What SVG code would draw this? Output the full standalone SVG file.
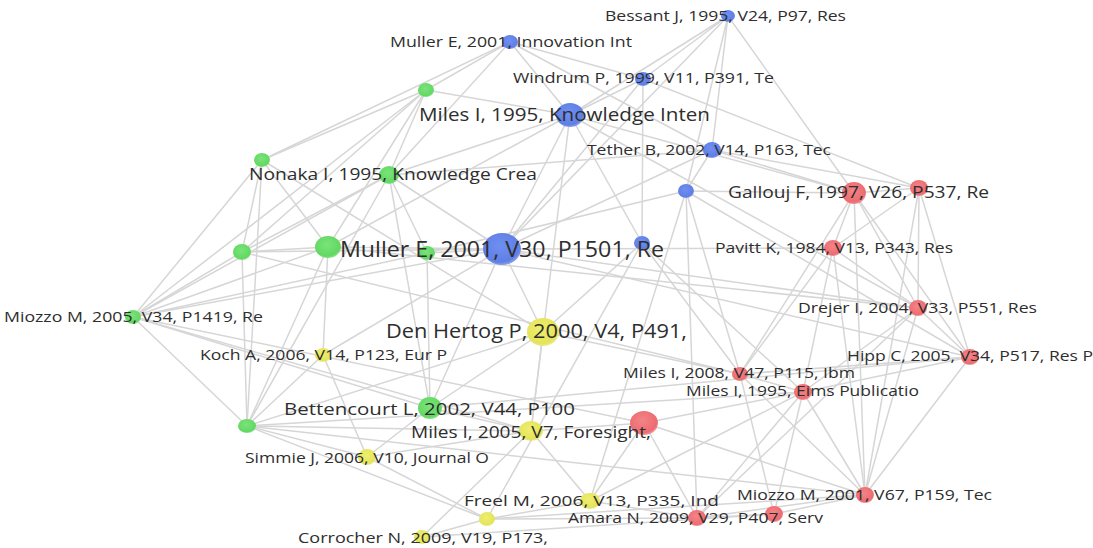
<svg xmlns="http://www.w3.org/2000/svg" width="1093" height="548" viewBox="0 0 1093 548">
  <style>
    .bg { fill: #ffffff; }
    #links line { stroke: #d6d6d6; stroke-width: 1.5; stroke-linecap: round; }
    .lbl { font-family: "Open Sans", "Noto Sans", "Liberation Sans", sans-serif; fill: #2e2e2e; }
    .blue { fill: url(#gBlue); }
    .green { fill: url(#gGreen); }
    .yellow { fill: url(#gYellow); }
    .red { fill: url(#gRed); }
  </style>
  <defs>
    <radialGradient id="gBlue" cx="0.45" cy="0.4" r="0.6">
      <stop offset="0" stop-color="#6f8ff0"/>
      <stop offset="0.85" stop-color="#5f7fe6"/>
      <stop offset="1" stop-color="#6f8ae6" stop-opacity="0.8"/>
    </radialGradient>
    <radialGradient id="gGreen" cx="0.45" cy="0.4" r="0.6">
      <stop offset="0" stop-color="#7ae47a"/>
      <stop offset="0.85" stop-color="#62d862"/>
      <stop offset="1" stop-color="#72da72" stop-opacity="0.8"/>
    </radialGradient>
    <radialGradient id="gYellow" cx="0.45" cy="0.4" r="0.6">
      <stop offset="0" stop-color="#eeee70"/>
      <stop offset="0.85" stop-color="#e4e45a"/>
      <stop offset="1" stop-color="#e6e670" stop-opacity="0.8"/>
    </radialGradient>
    <radialGradient id="gRed" cx="0.45" cy="0.4" r="0.6">
      <stop offset="0" stop-color="#f48488"/>
      <stop offset="0.85" stop-color="#ec6c70"/>
      <stop offset="1" stop-color="#ee7c80" stop-opacity="0.8"/>
    </radialGradient>
  </defs>

  <rect class="bg" x="0" y="0" width="1093" height="548"/>

  <!-- co-citation links -->
  <g id="links">
    <line x1="728" y1="16" x2="643" y2="79"/>
    <line x1="728" y1="16" x2="570" y2="115"/>
    <line x1="728" y1="16" x2="712" y2="150"/>
    <line x1="728" y1="16" x2="686" y2="191"/>
    <line x1="728" y1="16" x2="854" y2="193"/>
    <line x1="728" y1="16" x2="502" y2="249"/>
    <line x1="510" y1="42" x2="426" y2="90"/>
    <line x1="510" y1="42" x2="262" y2="160"/>
    <line x1="510" y1="42" x2="389" y2="175"/>
    <line x1="510" y1="42" x2="570" y2="115"/>
    <line x1="510" y1="42" x2="712" y2="150"/>
    <line x1="510" y1="42" x2="643" y2="79"/>
    <line x1="643" y1="79" x2="642" y2="243"/>
    <line x1="643" y1="79" x2="502" y2="249"/>
    <line x1="643" y1="79" x2="919" y2="188"/>
    <line x1="643" y1="79" x2="570" y2="115"/>
    <line x1="570" y1="115" x2="426" y2="90"/>
    <line x1="570" y1="115" x2="389" y2="175"/>
    <line x1="570" y1="115" x2="502" y2="249"/>
    <line x1="570" y1="115" x2="642" y2="243"/>
    <line x1="570" y1="115" x2="854" y2="193"/>
    <line x1="570" y1="115" x2="918" y2="308"/>
    <line x1="570" y1="115" x2="328" y2="247"/>
    <line x1="570" y1="115" x2="531" y2="431"/>
    <line x1="712" y1="150" x2="686" y2="191"/>
    <line x1="712" y1="150" x2="854" y2="193"/>
    <line x1="712" y1="150" x2="919" y2="188"/>
    <line x1="712" y1="150" x2="502" y2="249"/>
    <line x1="712" y1="150" x2="389" y2="175"/>
    <line x1="686" y1="191" x2="854" y2="193"/>
    <line x1="686" y1="191" x2="740" y2="374"/>
    <line x1="686" y1="191" x2="697" y2="518"/>
    <line x1="686" y1="191" x2="970" y2="357"/>
    <line x1="686" y1="191" x2="427" y2="253"/>
    <line x1="686" y1="191" x2="590" y2="501"/>
    <line x1="642" y1="243" x2="740" y2="374"/>
    <line x1="642" y1="243" x2="803" y2="392"/>
    <line x1="642" y1="243" x2="487" y2="519"/>
    <line x1="642" y1="243" x2="543" y2="332"/>
    <line x1="502" y1="249" x2="328" y2="247"/>
    <line x1="502" y1="249" x2="427" y2="253"/>
    <line x1="502" y1="249" x2="242" y2="252"/>
    <line x1="502" y1="249" x2="133" y2="317"/>
    <line x1="502" y1="249" x2="430" y2="408"/>
    <line x1="502" y1="249" x2="543" y2="332"/>
    <line x1="502" y1="249" x2="833" y2="248"/>
    <line x1="502" y1="249" x2="918" y2="308"/>
    <line x1="502" y1="249" x2="970" y2="357"/>
    <line x1="502" y1="249" x2="323" y2="355"/>
    <line x1="426" y1="90" x2="262" y2="160"/>
    <line x1="426" y1="90" x2="389" y2="175"/>
    <line x1="426" y1="90" x2="133" y2="317"/>
    <line x1="426" y1="90" x2="242" y2="252"/>
    <line x1="426" y1="90" x2="328" y2="247"/>
    <line x1="262" y1="160" x2="242" y2="252"/>
    <line x1="262" y1="160" x2="247" y2="426"/>
    <line x1="262" y1="160" x2="328" y2="247"/>
    <line x1="262" y1="160" x2="543" y2="332"/>
    <line x1="262" y1="160" x2="133" y2="317"/>
    <line x1="389" y1="175" x2="242" y2="252"/>
    <line x1="389" y1="175" x2="427" y2="253"/>
    <line x1="389" y1="175" x2="430" y2="408"/>
    <line x1="389" y1="175" x2="133" y2="317"/>
    <line x1="389" y1="175" x2="247" y2="426"/>
    <line x1="389" y1="175" x2="502" y2="249"/>
    <line x1="242" y1="252" x2="328" y2="247"/>
    <line x1="242" y1="252" x2="133" y2="317"/>
    <line x1="242" y1="252" x2="247" y2="426"/>
    <line x1="242" y1="252" x2="740" y2="374"/>
    <line x1="328" y1="247" x2="133" y2="317"/>
    <line x1="328" y1="247" x2="247" y2="426"/>
    <line x1="328" y1="247" x2="323" y2="355"/>
    <line x1="328" y1="247" x2="918" y2="308"/>
    <line x1="427" y1="253" x2="430" y2="408"/>
    <line x1="427" y1="253" x2="133" y2="317"/>
    <line x1="133" y1="317" x2="247" y2="426"/>
    <line x1="133" y1="317" x2="430" y2="408"/>
    <line x1="133" y1="317" x2="644" y2="423"/>
    <line x1="133" y1="317" x2="531" y2="431"/>
    <line x1="247" y1="426" x2="323" y2="355"/>
    <line x1="247" y1="426" x2="543" y2="332"/>
    <line x1="247" y1="426" x2="531" y2="431"/>
    <line x1="247" y1="426" x2="487" y2="519"/>
    <line x1="247" y1="426" x2="865" y2="495"/>
    <line x1="247" y1="426" x2="367" y2="457"/>
    <line x1="247" y1="426" x2="803" y2="392"/>
    <line x1="430" y1="408" x2="543" y2="332"/>
    <line x1="430" y1="408" x2="367" y2="457"/>
    <line x1="430" y1="408" x2="531" y2="431"/>
    <line x1="430" y1="408" x2="970" y2="357"/>
    <line x1="543" y1="332" x2="531" y2="431"/>
    <line x1="543" y1="332" x2="740" y2="374"/>
    <line x1="323" y1="355" x2="367" y2="457"/>
    <line x1="531" y1="431" x2="590" y2="501"/>
    <line x1="531" y1="431" x2="422" y2="537"/>
    <line x1="531" y1="431" x2="644" y2="423"/>
    <line x1="531" y1="431" x2="367" y2="457"/>
    <line x1="367" y1="457" x2="487" y2="519"/>
    <line x1="590" y1="501" x2="487" y2="519"/>
    <line x1="590" y1="501" x2="697" y2="518"/>
    <line x1="590" y1="501" x2="644" y2="423"/>
    <line x1="590" y1="501" x2="803" y2="392"/>
    <line x1="487" y1="519" x2="422" y2="537"/>
    <line x1="487" y1="519" x2="697" y2="518"/>
    <line x1="487" y1="519" x2="865" y2="495"/>
    <line x1="422" y1="537" x2="774" y2="514"/>
    <line x1="854" y1="193" x2="919" y2="188"/>
    <line x1="854" y1="193" x2="833" y2="248"/>
    <line x1="854" y1="193" x2="918" y2="308"/>
    <line x1="854" y1="193" x2="970" y2="357"/>
    <line x1="854" y1="193" x2="865" y2="495"/>
    <line x1="854" y1="193" x2="740" y2="374"/>
    <line x1="919" y1="188" x2="833" y2="248"/>
    <line x1="919" y1="188" x2="918" y2="308"/>
    <line x1="919" y1="188" x2="970" y2="357"/>
    <line x1="919" y1="188" x2="865" y2="495"/>
    <line x1="833" y1="248" x2="918" y2="308"/>
    <line x1="833" y1="248" x2="740" y2="374"/>
    <line x1="833" y1="248" x2="803" y2="392"/>
    <line x1="833" y1="248" x2="865" y2="495"/>
    <line x1="918" y1="308" x2="970" y2="357"/>
    <line x1="918" y1="308" x2="803" y2="392"/>
    <line x1="918" y1="308" x2="865" y2="495"/>
    <line x1="918" y1="308" x2="697" y2="518"/>
    <line x1="970" y1="357" x2="740" y2="374"/>
    <line x1="970" y1="357" x2="803" y2="392"/>
    <line x1="970" y1="357" x2="865" y2="495"/>
    <line x1="740" y1="374" x2="803" y2="392"/>
    <line x1="740" y1="374" x2="865" y2="495"/>
    <line x1="740" y1="374" x2="774" y2="514"/>
    <line x1="803" y1="392" x2="865" y2="495"/>
    <line x1="803" y1="392" x2="697" y2="518"/>
    <line x1="803" y1="392" x2="774" y2="514"/>
    <line x1="803" y1="392" x2="644" y2="423"/>
    <line x1="644" y1="423" x2="697" y2="518"/>
    <line x1="644" y1="423" x2="865" y2="495"/>
    <line x1="865" y1="495" x2="697" y2="518"/>
    <line x1="865" y1="495" x2="774" y2="514"/>
    <line x1="697" y1="518" x2="774" y2="514"/>
  </g>

  <!-- blue cluster -->
  <g id="n-bessant"><ellipse class="blue" cx="728" cy="16" rx="7" ry="6"/></g>
  <g id="n-muller-inn"><ellipse class="blue" cx="510" cy="42" rx="8" ry="7"/></g>
  <g id="n-windrum"><ellipse class="blue" cx="643" cy="79" rx="8" ry="7"/></g>
  <g id="n-miles-1995-kibs"><ellipse class="blue" cx="570" cy="115" rx="14" ry="12"/></g>
  <g id="n-tether"><ellipse class="blue" cx="712" cy="150" rx="9" ry="8"/></g>
  <g id="n-blue-a"><ellipse class="blue" cx="686" cy="191" rx="8" ry="7"/></g>
  <g id="n-blue-b"><ellipse class="blue" cx="642" cy="243" rx="8" ry="7"/></g>
  <g id="n-muller-v30"><ellipse class="blue" cx="502" cy="249" rx="19" ry="16"/></g>

  <!-- green cluster -->
  <g id="n-green-a"><ellipse class="green" cx="426" cy="90" rx="8" ry="7"/></g>
  <g id="n-green-b"><ellipse class="green" cx="262" cy="160" rx="8" ry="7"/></g>
  <g id="n-nonaka"><ellipse class="green" cx="389" cy="175" rx="10" ry="9"/></g>
  <g id="n-green-c"><ellipse class="green" cx="242" cy="252" rx="9" ry="8"/></g>
  <g id="n-green-d"><ellipse class="green" cx="328" cy="247" rx="13" ry="11"/></g>
  <g id="n-green-e"><ellipse class="green" cx="427" cy="253" rx="8" ry="7"/></g>
  <g id="n-miozzo-2005"><ellipse class="green" cx="133" cy="317" rx="8" ry="7"/></g>
  <g id="n-green-f"><ellipse class="green" cx="247" cy="426" rx="9" ry="7"/></g>
  <g id="n-bettencourt"><ellipse class="green" cx="430" cy="408" rx="12" ry="11"/></g>

  <!-- yellow cluster -->
  <g id="n-den-hertog"><ellipse class="yellow" cx="543" cy="332" rx="16" ry="14"/></g>
  <g id="n-koch"><ellipse class="yellow" cx="323" cy="355" rx="8" ry="7"/></g>
  <g id="n-miles-2005"><ellipse class="yellow" cx="531" cy="431" rx="12" ry="10"/></g>
  <g id="n-simmie"><ellipse class="yellow" cx="367" cy="457" rx="9" ry="8"/></g>
  <g id="n-freel"><ellipse class="yellow" cx="590" cy="501" rx="10" ry="8"/></g>
  <g id="n-yellow-a"><ellipse class="yellow" cx="487" cy="519" rx="8" ry="7"/></g>
  <g id="n-corrocher"><ellipse class="yellow" cx="422" cy="537" rx="8" ry="7"/></g>

  <!-- red cluster -->
  <g id="n-gallouj"><ellipse class="red" cx="854" cy="193" rx="12" ry="11"/></g>
  <g id="n-red-a"><ellipse class="red" cx="919" cy="188" rx="9" ry="8"/></g>
  <g id="n-pavitt"><ellipse class="red" cx="833" cy="248" rx="9" ry="8"/></g>
  <g id="n-drejer"><ellipse class="red" cx="918" cy="308" rx="9" ry="8"/></g>
  <g id="n-hipp"><ellipse class="red" cx="970" cy="357" rx="9" ry="8"/></g>
  <g id="n-miles-2008"><ellipse class="red" cx="740" cy="374" rx="8" ry="7"/></g>
  <g id="n-miles-1995-eims"><ellipse class="red" cx="803" cy="392" rx="9" ry="8"/></g>
  <g id="n-red-b"><ellipse class="red" cx="644" cy="423" rx="14" ry="12"/></g>
  <g id="n-miozzo-2001"><ellipse class="red" cx="865" cy="495" rx="9" ry="8"/></g>
  <g id="n-amara"><ellipse class="red" cx="697" cy="518" rx="9" ry="8"/></g>
  <g id="n-red-c"><ellipse class="red" cx="774" cy="514" rx="9" ry="8"/></g>

  <!-- labels -->
  <g id="labels" class="lbl">
    <text x="605" y="21" font-size="15" textLength="241" lengthAdjust="spacingAndGlyphs">Bessant J, 1995, V24, P97, Res</text>
    <text x="390" y="47" font-size="15" textLength="242" lengthAdjust="spacingAndGlyphs">Muller E, 2001, Innovation Int</text>
    <text x="513" y="83" font-size="15" textLength="261" lengthAdjust="spacingAndGlyphs">Windrum P, 1999, V11, P391, Te</text>
    <text x="419" y="121" font-size="19" textLength="291" lengthAdjust="spacingAndGlyphs">Miles I, 1995, Knowledge Inten</text>
    <text x="587" y="155" font-size="15" textLength="244" lengthAdjust="spacingAndGlyphs">Tether B, 2002, V14, P163, Tec</text>
    <text x="249" y="180" font-size="16.5" textLength="288" lengthAdjust="spacingAndGlyphs">Nonaka I, 1995, Knowledge Crea</text>
    <text x="728" y="198" font-size="16" textLength="261" lengthAdjust="spacingAndGlyphs">Gallouj F, 1997, V26, P537, Re</text>
    <text x="340" y="257" font-size="21" textLength="324" lengthAdjust="spacingAndGlyphs">Muller E, 2001, V30, P1501, Re</text>
    <text x="715" y="253" font-size="15" textLength="238" lengthAdjust="spacingAndGlyphs">Pavitt K, 1984, V13, P343, Res</text>
    <text x="798" y="313" font-size="15" textLength="239" lengthAdjust="spacingAndGlyphs">Drejer I, 2004, V33, P551, Res</text>
    <text x="4" y="322" font-size="15" textLength="259" lengthAdjust="spacingAndGlyphs">Miozzo M, 2005, V34, P1419, Re</text>
    <text x="386" y="338" font-size="19.5" textLength="301" lengthAdjust="spacingAndGlyphs">Den Hertog P, 2000, V4, P491,</text>
    <text x="847" y="361" font-size="15" textLength="246" lengthAdjust="spacingAndGlyphs">Hipp C, 2005, V34, P517, Res P</text>
    <text x="200" y="360" font-size="15" textLength="247" lengthAdjust="spacingAndGlyphs">Koch A, 2006, V14, P123, Eur P</text>
    <text x="623" y="378" font-size="14.5" textLength="232" lengthAdjust="spacingAndGlyphs">Miles I, 2008, V47, P115, Ibm</text>
    <text x="686" y="396" font-size="14.5" textLength="233" lengthAdjust="spacingAndGlyphs">Miles I, 1995, Eims Publicatio</text>
    <text x="284" y="415" font-size="17" textLength="291" lengthAdjust="spacingAndGlyphs">Bettencourt L, 2002, V44, P100</text>
    <text x="411" y="438" font-size="16" textLength="240" lengthAdjust="spacingAndGlyphs">Miles I, 2005, V7, Foresight,</text>
    <text x="245" y="463" font-size="15" textLength="244" lengthAdjust="spacingAndGlyphs">Simmie J, 2006, V10, Journal O</text>
    <text x="737" y="500" font-size="15" textLength="255" lengthAdjust="spacingAndGlyphs">Miozzo M, 2001, V67, P159, Tec</text>
    <text x="464" y="506" font-size="15" textLength="255" lengthAdjust="spacingAndGlyphs">Freel M, 2006, V13, P335, Ind</text>
    <text x="568" y="523" font-size="15" textLength="255" lengthAdjust="spacingAndGlyphs">Amara N, 2009, V29, P407, Serv</text>
    <text x="298" y="543" font-size="15" textLength="250" lengthAdjust="spacingAndGlyphs">Corrocher N, 2009, V19, P173,</text>
  </g>
</svg>
